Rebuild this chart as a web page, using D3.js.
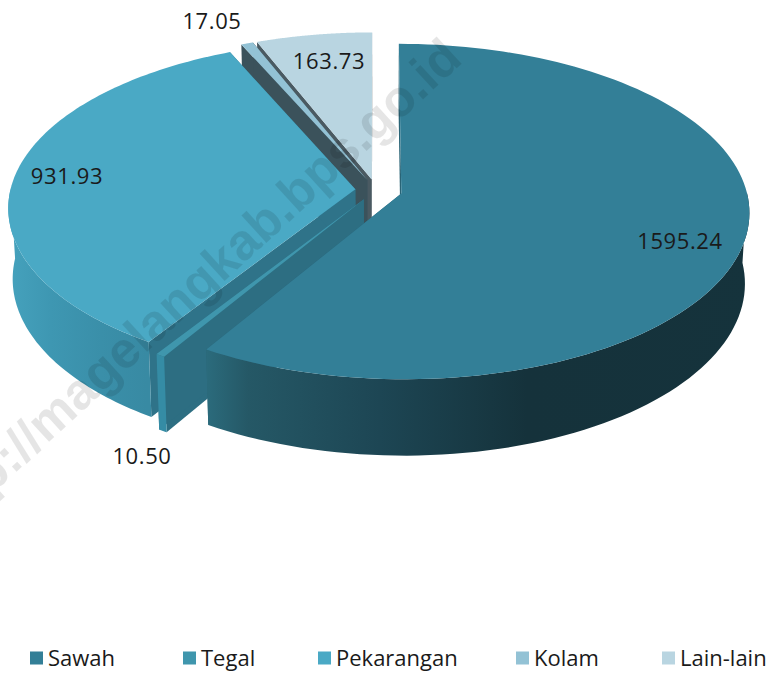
<!DOCTYPE html>
<html>
<head>
<meta charset="utf-8">
<style>
  html, body { margin: 0; padding: 0; background: #fff; }
  text { font-family: "Open Sans", sans-serif; fill: #1a1a1a; }
</style>
</head>
<body>
<svg id="chart" width="775" height="673"></svg>
<script src="https://cdn.jsdelivr.net/npm/d3@7/dist/d3.min.js"></script>
<script>
// values
const categories = ['Sawah', 'Tegal', 'Pekarangan', 'Kolam', 'Lain-lain'];
const values = [1595.24, 10.50, 931.93, 17.05, 163.73];
const valueLabels = ['1595.24', '10.50', '931.93', '17.05', '163.73'];

const topColors = ['#337f97', '#3f96ad', '#4aa9c5', '#93c2d5', '#b9d5e1'];
const wallColors = ['#2a6476', '#2d6e82', '#2f7389', '#3b525b', '#4a5a62'];
const explodes = [0.076, 0.066, 0.06, 0.066, 0.066];
const labelX = [680, 142, 67, 212, 329];
const labelY = [241, 456, 176, 21, 61];
const legendX = [30, 183, 318, 516, 662];

// pie lying on a plane, seen with some perspective
const persp = 0.108, depth = 70;
const xScale = d3.scaleLinear().domain([-1, 1]).range([376 - 345, 376 + 345]);
const yScale = d3.scaleLinear().domain([-1, 1]).range([190 + 165, 190 - 165]);

function project(u, v, h) {
  const s = 1 / (1 + persp * v);
  const shrink = 1 - 0.012 * h;
  return [
    xScale(u * s * shrink),
    yScale(v * s * shrink) + h * depth * s
  ];
}

const svg = d3.select('#chart');
const defs = svg.append('defs');
const line = d3.line();

const pie = d3.pie().sort(null)(values);

function gradient(id, stops) {
  const g = defs.append('linearGradient')
    .attr('id', id)
    .attr('gradientUnits', 'userSpaceOnUse')
    .attr('x1', 0).attr('x2', 775).attr('y1', 0).attr('y2', 0);
  stops.forEach(s => g.append('stop').attr('offset', s[0]).attr('stop-color', s[1]));
}
gradient('wall0', [[0.267, '#2b6b7c'], [0.32, '#255866'], [0.49, '#1d4654'], [0.68, '#15323b'], [1, '#15333c']]);
gradient('wall1', [[0.2, '#358ca5'], [0.3, '#358ca5']]);
gradient('wall2', [[0.02, '#44a0bb'], [0.065, '#3e97b2'], [0.13, '#3a8fa9'], [0.19, '#388aa3']]);

function drawSlice(d) {
  const i = d.index;
  const mid = (d.startAngle + d.endAngle) / 2;
  const du = Math.sin(mid) * explodes[i], dv = Math.cos(mid) * explodes[i];
  const pt = (a, r, h) => project(du + Math.sin(a) * r, dv + Math.cos(a) * r, h);
  const g = svg.append('g').attr('class', 'slice-' + i);

  const arcAngles = d3.range(0, 121).map(t => d.startAngle + (d.endAngle - d.startAngle) * t / 120);

  // straight cut walls
  [d.startAngle, d.endAngle].forEach(a => {
    g.append('path')
      .attr('d', line([pt(a, 0, 0), pt(a, 1, 0), pt(a, 1, 1), pt(a, 0, 1)]) + 'Z')
      .attr('fill', wallColors[i]);
  });

  // outer wall, only the part facing us
  const front = arcAngles.filter(a => a > Math.PI * 0.49 && a < Math.PI * 1.505);
  if (front.length > 1) {
    const pts = front.map(a => pt(a, 1, 0)).concat(front.slice().reverse().map(a => pt(a, 1, 1)));
    g.append('path')
      .attr('d', line(pts) + 'Z')
      .attr('fill', i < 3 ? 'url(#wall' + i + ')' : wallColors[i]);
  }

  // top
  const topPts = [pt(0, 0, 0)].concat(arcAngles.map(a => pt(a, 1, 0)));
  g.append('path')
    .attr('d', line(topPts) + 'Z')
    .attr('fill', topColors[i]);
}

// back to front
[4, 3, 2, 1, 0].forEach(i => drawSlice(pie[i]));

// watermark runs over the chart
svg.append('text')
  .attr('transform', 'translate(-58,540) rotate(-42.5)')
  .attr('font-size', 51)
  .attr('font-weight', 700)
  .style('font-family', '"Liberation Sans", sans-serif')
  .style('fill', '#000')
  .style('fill-opacity', 0.1)
  .text('http://magelangkab.bps.go.id');

// value labels
svg.append('g').selectAll('text')
  .data(valueLabels)
  .enter()
  .append('text')
  .attr('x', (d, i) => labelX[i])
  .attr('y', (d, i) => labelY[i])
  .attr('dy', '0.35em')
  .attr('text-anchor', 'middle')
  .attr('font-size', 22)
  .attr('letter-spacing', 0.6)
  .text(d => d);

// legend
const legend = svg.append('g').selectAll('g')
  .data(categories)
  .enter()
  .append('g')
  .attr('transform', (d, i) => 'translate(' + legendX[i] + ',658)');
legend.append('rect')
  .attr('x', 0).attr('y', -6.5)
  .attr('width', 13).attr('height', 13)
  .attr('fill', (d, i) => topColors[i]);
legend.append('text')
  .attr('x', 18)
  .attr('dy', '0.35em')
  .attr('font-size', 22)
  .text(d => d);
</script>
</body>
</html>
